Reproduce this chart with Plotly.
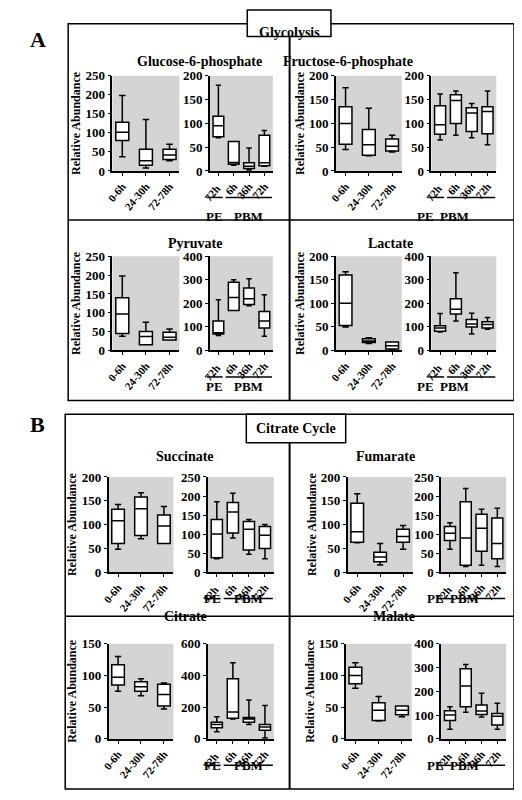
import plotly.graph_objects as go

W, H = 522, 800
M = 8  # browser body margin

# categories
cats_left = ["0-6h", "24-30h", "72-78h"]
cats_right = ["72h ", "6h", "36h", "72h"]

# box stats per metabolite: [lower, q1, median, q3, upper] for each category
g6p_l = [[37, 80, 102, 128, 198], [8, 15, 27, 57, 135], [27, 30, 42, 57, 70]]
g6p_r = [[70, 72, 95, 115, 180], [12, 14, 18, 62, 62], [2, 5, 10, 17, 48], [10, 11, 17, 75, 85]]
f6p_l = [[45, 56, 100, 135, 175], [32, 33, 55, 87, 132], [40, 42, 52, 67, 75]]
f6p_r = [[65, 77, 97, 137, 162], [75, 100, 148, 160, 168], [70, 83, 122, 133, 142], [55, 78, 125, 135, 168]]
pyr_l = [[38, 45, 97, 140, 198], [15, 15, 37, 50, 75], [28, 28, 35, 48, 57]]
pyr_r = [[63, 70, 75, 125, 215], [170, 170, 225, 290, 300], [190, 195, 220, 265, 305], [60, 95, 125, 165, 237]]
lac_l = [[50, 53, 100, 160, 167], [15, 17, 20, 25, 27], [2, 3, 10, 18, 18]]
lac_r = [[78, 82, 95, 105, 157], [125, 155, 175, 220, 330], [70, 100, 112, 132, 158], [90, 95, 110, 122, 140]]
suc_l = [[48, 60, 108, 132, 142], [70, 77, 133, 158, 167], [60, 60, 97, 120, 138]]
suc_r = [[35, 38, 100, 138, 185], [90, 103, 158, 183, 207], [47, 58, 113, 133, 138], [35, 62, 97, 120, 125]]
fum_l = [[62, 63, 85, 145, 165], [15, 22, 32, 42, 60], [48, 63, 75, 90, 98]]
fum_r = [[60, 83, 102, 120, 130], [15, 18, 90, 185, 220], [18, 55, 115, 152, 165], [15, 35, 75, 142, 168]]
cit_l = [[75, 85, 97, 117, 130], [68, 75, 82, 90, 95], [47, 52, 70, 86, 88]]
cit_r = [[45, 70, 90, 105, 140], [125, 130, 170, 380, 480], [90, 105, 125, 135, 245], [5, 55, 75, 90, 210]]
mal_l = [[80, 87, 100, 113, 120], [28, 29, 45, 57, 67], [35, 38, 45, 52, 52]]
mal_r = [[40, 77, 100, 118, 135], [112, 135, 222, 295, 313], [92, 102, 117, 142, 192], [40, 58, 95, 107, 150]]

# (title, left stats, left ymax, left dtick, right stats, right ymax, right dtick)
panels = [
    ("Glucose-6-phosphate", g6p_l, 250, 50, g6p_r, 200, 50),
    ("Fructose-6-phosphate", f6p_l, 200, 50, f6p_r, 200, 50),
    ("Pyruvate", pyr_l, 250, 50, pyr_r, 400, 100),
    ("Lactate", lac_l, 200, 50, lac_r, 400, 100),
    ("Succinate", suc_l, 200, 50, suc_r, 250, 50),
    ("Fumarate", fum_l, 200, 50, fum_r, 250, 50),
    ("Citrate", cit_l, 150, 50, cit_r, 600, 200),
    ("Malate", mal_l, 150, 50, mal_r, 400, 100),
]

# pixel geometry: (left plot x0,x1, right plot x0,x1, y top, y bottom, title x, title y)
geo = [
    (106, 174, 205, 269, 70, 167, 194, 46),
    (333, 400, 430, 496, 70, 167, 413, 46),
    (106, 174, 205, 269, 254, 350, 190, 231),
    (333, 400, 430, 496, 254, 350, 413, 231),
    (102, 168, 203, 270, 479, 576, 180, 458),
    (345, 411, 440, 506, 479, 576, 415, 458),
    (102, 168, 203, 270, 649, 746, 180, 631),
    (343, 410, 440, 506, 649, 746, 415, 631),
]

FONT = "Liberation Serif"
FW, FH = W - 2 * M, H - 2 * M
px = lambda x: (x - M) / FW
py = lambda y: 1 - (y - M) / FH

fig = go.Figure()
layout = {}
shapes, annos = [], []
n = 0


def add_boxes(stats, cats, ax, width):
    for c, s in zip(cats, stats):
        fig.add_trace(go.Box(
            x=[c], lowerfence=[s[0]], q1=[s[1]], median=[s[2]], q3=[s[3]], upperfence=[s[4]],
            xaxis="x" + ax, yaxis="y" + ax, width=width, fillcolor="white",
            line=dict(color="black", width=1.5), whiskerwidth=0.5, showlegend=False))


for (title, sl, yl, dl, sr, yr, dr), (lx0, lx1, rx0, rx1, yt, yb, tx, ty) in zip(panels, geo):
    for stats, cats, ymax, dt, x0, x1, w in [(sl, cats_left, yl, dl, lx0, lx1, 0.55),
                                             (sr, cats_right, yr, dr, rx0, rx1, 0.7)]:
        n += 1
        ax = "" if n == 1 else str(n)
        add_boxes(stats, cats, ax, w)
        layout["xaxis" + ax] = dict(domain=[px(x0), px(x1)], anchor="y" + ax, type="category",
                                    categoryorder="array", categoryarray=cats,
                                    tickangle=-50, showline=True, linecolor="black", linewidth=1.5,
                                    ticks="outside", ticklen=3, tickcolor="black",
                                    tickfont=dict(family=FONT, size=11, color="black", weight="bold"),
                                    showgrid=False, fixedrange=True)
        ya = dict(domain=[py(yb), py(yt)], anchor="x" + ax, range=[0, ymax], dtick=dt,
                  showline=True, linecolor="black", linewidth=1.5, ticks="outside", ticklen=3,
                  tickcolor="black", showgrid=False, zeroline=False,
                  tickfont=dict(family=FONT, size=13, color="black", weight="bold"))
        if cats is cats_left:
            ya["title"] = dict(text="Relative Abundance", standoff=2,
                               font=dict(family=FONT, size=12, color="black", weight="bold"))
        layout["yaxis" + ax] = ya
        shapes.append(dict(type="rect", xref="paper", yref="paper", x0=px(x0), x1=px(x1),
                           y0=py(yb), y1=py(yt), fillcolor="#d4d4d4", line_width=0, layer="below"))
    # PE / PBM group markers
    ly = yb + 27
    for a, b, lab in [(rx0 - 3, rx0 + 13, "PE"), (rx0 + 16, rx1 - 1, "PBM")]:
        shapes.append(dict(type="line", xref="paper", yref="paper", x0=px(a), x1=px(b),
                           y0=py(ly), y1=py(ly), line=dict(color="black", width=1.5)))
        annos.append(dict(text=lab, x=px((a + b) / 2), y=py(ly + 10), xref="paper", yref="paper",
                          showarrow=False, font=dict(family=FONT, size=13, color="black", weight="bold")))
    annos.append(dict(text=title, x=px(tx), y=py(ty), xref="paper", yref="paper", showarrow=False,
                      font=dict(family=FONT, size=14, color="black", weight="bold")))

# section frames
for (fx0, fy0, fx1, fy1, dy, bx0, bx1, by1, lab, letter, lety) in [
        (61, 17, 514, 401, 217, 243, 328, 30, "Glycolysis", "A", 18),
        (58, 415, 514, 797, 621, 242, 343, 444, "Citrate Cycle", "B", 425)]:
    shapes.append(dict(type="rect", xref="paper", yref="paper", x0=px(fx0), x1=px(fx1),
                       y0=py(fy1), y1=py(fy0), line=dict(color="black", width=1.5)))
    shapes.append(dict(type="line", xref="paper", yref="paper", x0=px(286), x1=px(286),
                       y0=py(fy1), y1=py(fy0), line=dict(color="black", width=2)))
    shapes.append(dict(type="line", xref="paper", yref="paper", x0=px(fx0), x1=px(fx1),
                       y0=py(dy), y1=py(dy), line=dict(color="black", width=1.5)))
    top = fy0 - 14 if lab == "Glycolysis" else fy0
    shapes.append(dict(type="rect", xref="paper", yref="paper", x0=px(bx0), x1=px(bx1),
                       y0=py(by1), y1=py(top), fillcolor="white", line=dict(color="black", width=1.5)))
    annos.append(dict(text=lab, x=px((bx0 + bx1) / 2), y=py((top + by1) / 2), xref="paper", yref="paper",
                      showarrow=False, font=dict(family=FONT, size=14, color="black", weight="bold")))
    annos.append(dict(text=letter, x=px(20), y=py(lety), xref="paper", yref="paper", showarrow=False,
                      font=dict(family=FONT, size=22, color="black", weight="bold")))

fig.update_layout(width=FW, height=FH, margin=dict(l=0, r=0, t=0, b=0), paper_bgcolor="white",
                  plot_bgcolor="rgba(0,0,0,0)", shapes=shapes, annotations=annos, **layout)
fig.write_html("out.html")
